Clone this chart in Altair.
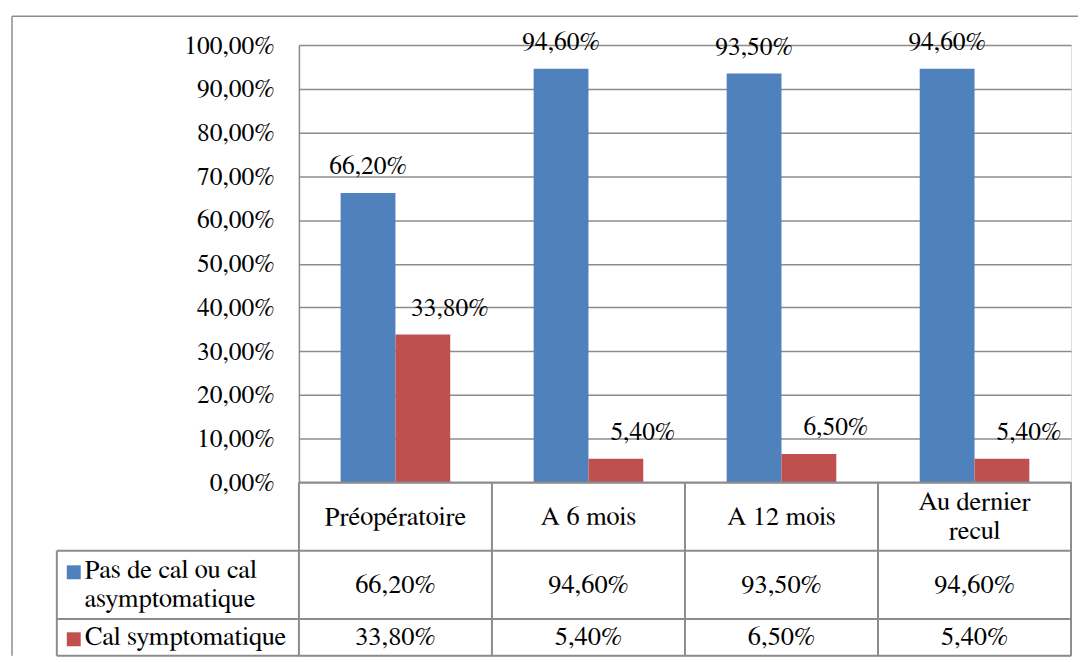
import altair as alt
import pandas as pd

# ---------------- data ----------------
categories = ["Préopératoire", "A 6 mois", "A 12 mois", "Au dernier recul"]
header_labels = ["Préopératoire", "A 6 mois", "A 12 mois", "Au dernier\nrecul"]
series = ["Pas de cal ou cal asymptomatique", "Cal symptomatique"]
legend_labels = ["Pas de cal ou cal\nasymptomatique", "Cal symptomatique"]
pas_de_cal = [66.2, 94.6, 93.5, 94.6]
cal_symptomatique = [33.8, 5.4, 6.5, 5.4]
y_ticks = [0, 10, 20, 30, 40, 50, 60, 70, 80, 90, 100]
colors = ["#4F81BD", "#C0504D"]

# ---------------- layout / style ----------------
FONT = "FreeSerif"
W, H = 775, 439          # bar plot area
TH = 174                 # table height
COL_W = W / 4
LEG_PX = 243             # width of the legend column of the table
LEG_U = LEG_PX / COL_W
LH = 29                  # line height of table text (px)
TFS = 26.5               # table font size
GRID = "#8c8c8c"
fmt = "replace(format(datum.value / 100, '.2%'), '.', ',')"

values_by_series = [pas_de_cal, cal_symptomatique]
bars_df = pd.DataFrame(
    [
        {"category": c, "series": s, "value": v[i]}
        for s, v in zip(series, values_by_series)
        for i, c in enumerate(categories)
    ]
)

x_enc = alt.X("category:N", sort=categories, axis=None,
              scale=alt.Scale(paddingInner=0, paddingOuter=0))
xo_enc = alt.XOffset("series:N", sort=series,
                     scale=alt.Scale(paddingInner=0, paddingOuter=0.761))
y_enc = alt.Y(
    "value:Q",
    scale=alt.Scale(domain=[0, 100], nice=False),
    axis=alt.Axis(
        values=y_ticks, labelExpr=fmt, title=None, ticks=False, labelPadding=25,
        labelFont=FONT, labelFontSize=25.5, labelColor="black",
        domainColor=GRID, domainWidth=1.5, gridColor=GRID, gridWidth=1.5,
    ),
)
color_enc = alt.Color("series:N", sort=series, legend=None,
                      scale=alt.Scale(domain=series, range=colors))

base = alt.Chart(bars_df)
bars = base.mark_bar().encode(x=x_enc, xOffset=xo_enc, y=y_enc, color=color_enc)

lab = base.transform_calculate(label=fmt)
lab_blue = lab.transform_filter(alt.datum.series == series[0]).mark_text(
    font=FONT, fontSize=25.5, color="black", baseline="alphabetic", dy=-19
).encode(x=x_enc, xOffset=xo_enc, y="value:Q", text="label:N")
lab_red = lab.transform_filter(alt.datum.series == series[1]).mark_text(
    font=FONT, fontSize=25.5, color="black", baseline="alphabetic", dy=-19, dx=27
).encode(x=x_enc, xOffset=xo_enc, y="value:Q", text="label:N")

one = alt.Chart(pd.DataFrame({"a": [0]}))
frame_left = one.mark_rule(color=GRID, strokeWidth=1.5).encode(
    x=alt.value(-288), y=alt.value(-29), y2=alt.value(H + TH))
frame_top = one.mark_rule(color=GRID, strokeWidth=1.5).encode(
    x=alt.value(-288), x2=alt.value(782), y=alt.value(-29))

top = alt.layer(bars, lab_blue, lab_red, frame_left, frame_top).properties(width=W, height=H)

# ---------------- data table ----------------
line_counts = [2, 2, 1]
PAD = 0.17
heights = [n + PAD for n in line_counts]
bounds = [0.0]
for h in heights:
    bounds.append(bounds[-1] + h)
total = bounds[-1]
centers = [(bounds[k] + bounds[k + 1]) / 2 for k in range(3)]
lh_u = LH / (TH / total)   # line height in table units


def first_line_y(center, text):
    n = text.count("\n") + 1
    return center - (n - 1) / 2 * lh_u


cells = []
for i, hdr in enumerate(header_labels):
    cells.append({"x": i + 0.5, "y": first_line_y(centers[0], hdr), "t": hdr})
    for r, vals in enumerate(values_by_series):
        cells.append({"x": i + 0.5, "y": centers[r + 1], "v": vals[i]})
cells_df = pd.DataFrame(cells)

legend_df = pd.DataFrame(
    [
        {"x": -LEG_U + 28 / COL_W, "y": first_line_y(centers[r + 1], legend_labels[r]),
         "t": legend_labels[r], "sx": -LEG_U + 17 / COL_W,
         "sy": first_line_y(centers[r + 1], legend_labels[r]) + 0.06,
         "series": series[r]}
        for r in range(2)
    ]
)

lines = []
for k in range(5):
    lines.append({"x": k, "x2": k, "y": 0, "y2": total})
lines.append({"x": -LEG_U, "x2": -LEG_U, "y": bounds[1], "y2": total})
lines.append({"x": 0, "x2": 4, "y": 0, "y2": 0})
for b in bounds[1:]:
    lines.append({"x": -LEG_U, "x2": 4, "y": b, "y2": b})
lines_df = pd.DataFrame(lines)

tx = alt.Scale(domain=[0, 4], nice=False, zero=False)
ty = alt.Scale(domain=[0, total], nice=False, reverse=True)

t_lines = alt.Chart(lines_df).mark_rule(color=GRID, strokeWidth=2).encode(
    x=alt.X("x:Q", scale=tx, axis=None), x2="x2:Q",
    y=alt.Y("y:Q", scale=ty, axis=None), y2="y2:Q")

t_text = alt.Chart(cells_df).transform_calculate(
    label="isValid(datum.t) ? datum.t : replace(format(datum.v / 100, '.2%'), '.', ',')"
).mark_text(font=FONT, fontSize=TFS, color="black", align="center",
            baseline="middle", lineBreak="\n", lineHeight=LH).encode(
    x=alt.X("x:Q", scale=tx, axis=None),
    y=alt.Y("y:Q", scale=ty, axis=None), text="label:N")

t_leg_text = alt.Chart(legend_df).mark_text(
    font=FONT, fontSize=TFS, color="black", align="left", baseline="middle",
    lineBreak="\n", lineHeight=LH).encode(
    x=alt.X("x:Q", scale=tx, axis=None),
    y=alt.Y("y:Q", scale=ty, axis=None), text="t:N")

t_leg_sq = alt.Chart(legend_df).mark_square(size=196, opacity=1).encode(
    x=alt.X("sx:Q", scale=tx, axis=None),
    y=alt.Y("sy:Q", scale=ty, axis=None),
    color=color_enc)

table = alt.layer(t_lines, t_text, t_leg_text, t_leg_sq).properties(width=W, height=TH)

chart = alt.vconcat(top, table, spacing=0, bounds="flush").properties(
    padding={"left": 2, "top": 5, "right": 0, "bottom": 0}
).configure_view(stroke=None).configure(background="white")

chart.save("out.html", embed_options={"renderer": "svg", "actions": False})
